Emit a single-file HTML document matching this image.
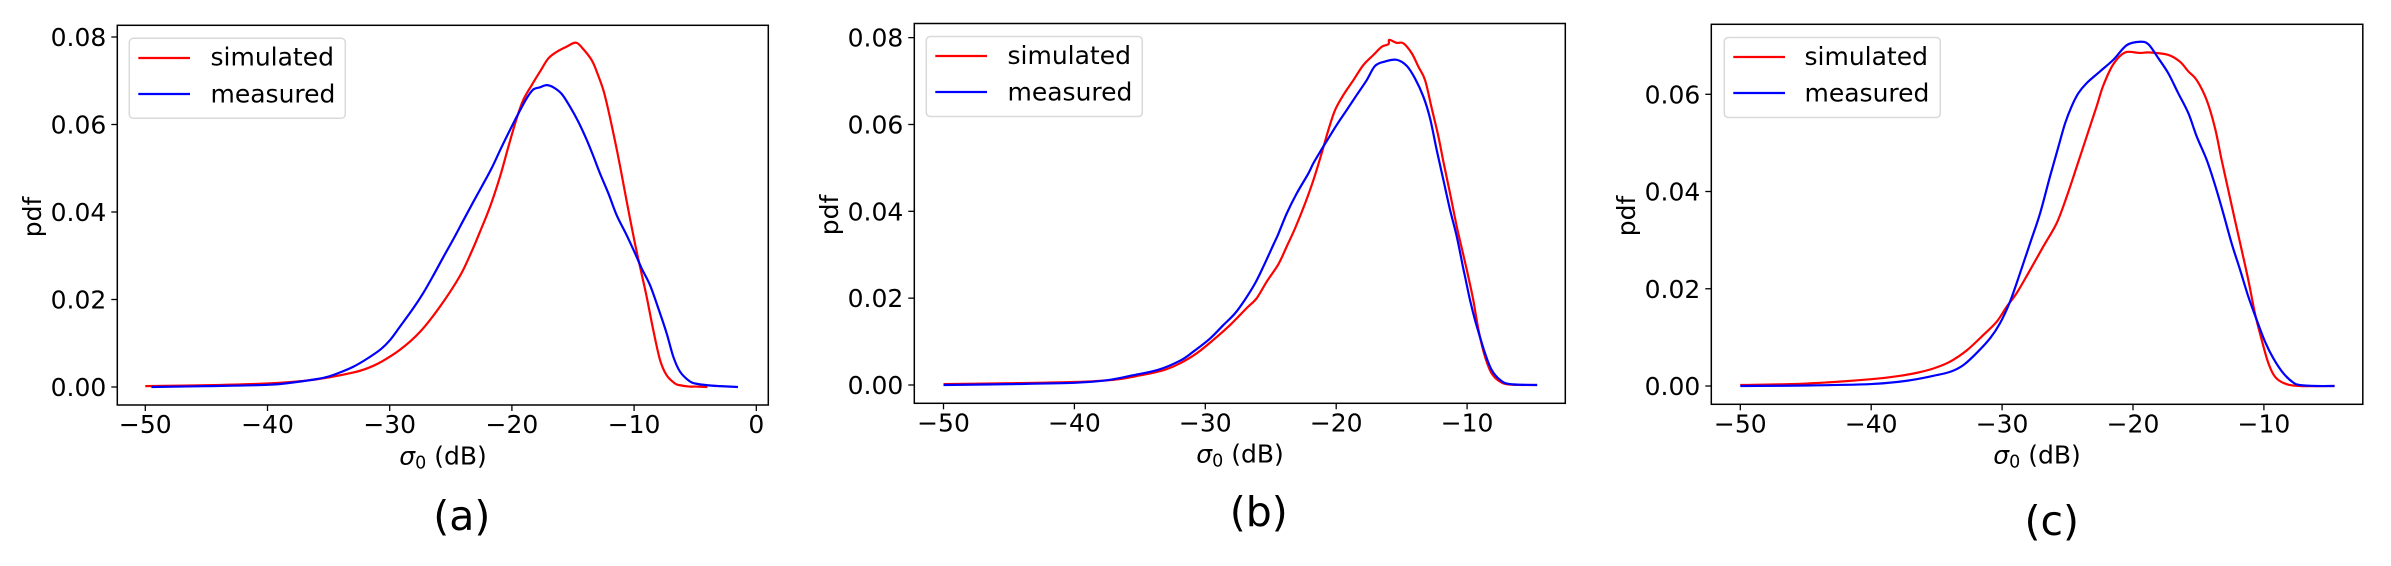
<!DOCTYPE html>
<html lang="en">
<head>
<meta charset="utf-8">
<title>Simulated vs measured pdf of sigma0</title>
<style>
html,body{margin:0;padding:0;background:#fff;width:2391px;height:566px;overflow:hidden}
svg{display:block;font-family:"DejaVu Sans","Liberation Sans",sans-serif;fill:#000}
text{font-size:25px}
</style>
</head>
<body>
<svg id="figure" xmlns="http://www.w3.org/2000/svg" width="2391" height="566" viewBox="0 0 2391 566">
  <rect width="2391" height="566" fill="#fff"/>

  <g id="panel-a">
    <g class="marks"></g>
    <rect x="117.3" y="25.3" width="651" height="379.7" fill="none" stroke="#000" stroke-width="1.5"/>
    <g class="ticks"></g>
    <text x="443" y="464.5" text-anchor="middle"><tspan font-style="italic">σ</tspan><tspan font-size="17.5" dy="4">0</tspan><tspan dy="-4"> (dB)</tspan></text>
    <text transform="translate(41 217) rotate(-90)" text-anchor="middle">pdf</text>
    <g>
      <rect x="129.3" y="38.3" width="216" height="80" rx="4" fill="#fff" fill-opacity="0.8" stroke="#d9d9d9" stroke-width="1.5"/>
      <line x1="138.3" x2="190" y1="58" y2="58" stroke="#f00" stroke-width="2.2"/>
      <text x="210.5" y="65.7">simulated</text>
      <line x1="138.3" x2="190" y1="94" y2="94" stroke="#00f" stroke-width="2.2"/>
      <text x="210.5" y="102.3">measured</text>
    </g>
    <text x="461.8" y="530" text-anchor="middle" style="font-size:41px">(a)</text>
  </g>

  <g id="panel-b">
    <g class="marks"></g>
    <rect x="914.3" y="23.5" width="651" height="379.8" fill="none" stroke="#000" stroke-width="1.5"/>
    <g class="ticks"></g>
    <text x="1240" y="462.7" text-anchor="middle"><tspan font-style="italic">σ</tspan><tspan font-size="17.5" dy="4">0</tspan><tspan dy="-4"> (dB)</tspan></text>
    <text transform="translate(838 215) rotate(-90)" text-anchor="middle">pdf</text>
    <g>
      <rect x="926.3" y="36.5" width="216" height="80" rx="4" fill="#fff" fill-opacity="0.8" stroke="#d9d9d9" stroke-width="1.5"/>
      <line x1="935.3" x2="987" y1="56" y2="56" stroke="#f00" stroke-width="2.2"/>
      <text x="1007.5" y="63.9">simulated</text>
      <line x1="935.3" x2="987" y1="92" y2="92" stroke="#00f" stroke-width="2.2"/>
      <text x="1007.5" y="100.5">measured</text>
    </g>
    <text x="1258.8" y="526" text-anchor="middle" style="font-size:41px">(b)</text>
  </g>

  <g id="panel-c">
    <g class="marks"></g>
    <rect x="1711.3" y="24.3" width="651.5" height="380" fill="none" stroke="#000" stroke-width="1.5"/>
    <g class="ticks"></g>
    <text x="2037" y="463.7" text-anchor="middle"><tspan font-style="italic">σ</tspan><tspan font-size="17.5" dy="4">0</tspan><tspan dy="-4"> (dB)</tspan></text>
    <text transform="translate(1635 216) rotate(-90)" text-anchor="middle">pdf</text>
    <g>
      <rect x="1724.3" y="37.5" width="216" height="80" rx="4" fill="#fff" fill-opacity="0.8" stroke="#d9d9d9" stroke-width="1.5"/>
      <line x1="1733.3" x2="1785" y1="57" y2="57" stroke="#f00" stroke-width="2.2"/>
      <text x="1804.5" y="64.9">simulated</text>
      <line x1="1733.3" x2="1785" y1="93" y2="93" stroke="#00f" stroke-width="2.2"/>
      <text x="1804.5" y="101.5">measured</text>
    </g>
    <text x="2051.8" y="535" text-anchor="middle" style="font-size:41px">(c)</text>
  </g>
</svg>

<script>
// ---- Panel (a) data: sigma0 in dB, pdf values ----
const simulatedDbA = [-50,-45,-40,-37,-35,-33,-32,-30.79,-29.16,-27.52,-25.88,-24.25,-23.29,-22.61,-21.79,-20.97,-20.29,-19.61,-19.07,-18.38,-17.7,-17.02,-16.34,-15.52,-14.75,-14.15,-13.47,-13.06,-12.52,-12.11,-11.56,-11.15,-10.61,-9.93,-9.38,-8.97,-8.43,-7.88,-7.34,-6.65,-6.24,-5.5,-5,-4];
const simulatedPdfA = [0.0002,0.0004,0.0008,0.0014,0.0022,0.0033,0.0041,0.0056,0.0085,0.0126,0.0184,0.0254,0.031,0.0355,0.0412,0.0481,0.0549,0.0614,0.0656,0.069,0.0721,0.0751,0.0766,0.0778,0.0787,0.0772,0.0747,0.0721,0.0679,0.0633,0.0562,0.0505,0.0425,0.0328,0.0258,0.0206,0.013,0.0062,0.0027,0.0008,0.0004,0.0001,0.0001,0];
const measuredDbA = [-49.5,-45,-40,-38,-36,-35,-34,-33,-32,-30.79,-29.98,-29.16,-28.07,-27.25,-26.43,-25.61,-24.79,-23.97,-23.16,-22.47,-21.66,-20.97,-20.29,-19.47,-18.79,-18.25,-17.7,-17.16,-16.61,-15.93,-15.25,-14.56,-13.88,-13.34,-12.79,-12.11,-11.43,-10.61,-9.93,-9.38,-8.7,-8.02,-7.34,-6.79,-6.24,-5.5,-5,-4,-3,-1.5];
const measuredPdfA = [0,0.0002,0.0005,0.001,0.0018,0.0024,0.0034,0.0046,0.0062,0.0085,0.0107,0.0138,0.018,0.0215,0.0255,0.0297,0.0338,0.0381,0.0423,0.0458,0.05,0.0541,0.058,0.0625,0.066,0.068,0.0685,0.069,0.0685,0.067,0.0641,0.0606,0.0565,0.0528,0.0488,0.0443,0.0393,0.0347,0.0306,0.0271,0.0233,0.018,0.0123,0.0069,0.0035,0.0014,0.0008,0.0004,0.0002,0];

// ---- Panel (b) data ----
const simulatedDbB = [-50,-45,-40,-37,-35,-34,-33,-31.93,-30.66,-29.38,-28.11,-26.84,-26.07,-25.31,-24.42,-23.78,-23.14,-22.38,-21.74,-21.11,-20.6,-20.09,-19.45,-18.69,-17.92,-17.16,-16.52,-16.01,-15.94,-15.38,-14.87,-14.23,-13.72,-13.21,-12.7,-12.19,-11.81,-11.3,-10.79,-10.29,-9.91,-9.53,-9.27,-9.02,-8.63,-8.13,-7.49,-6.72,-4.65];
const simulatedPdfB = [0.0002,0.0004,0.0007,0.0012,0.0022,0.0028,0.0036,0.005,0.0073,0.0104,0.0138,0.0177,0.02,0.0238,0.0278,0.0319,0.0361,0.0418,0.0472,0.0534,0.0587,0.0633,0.0668,0.0702,0.0737,0.076,0.0779,0.0785,0.0795,0.0788,0.0787,0.0764,0.0733,0.0702,0.0637,0.0572,0.0514,0.0441,0.0365,0.03,0.025,0.0196,0.015,0.0111,0.0065,0.0027,0.0008,0.0001,0];
const measuredDbB = [-50,-45,-40,-37.5,-35.6,-33.6,-31.93,-30.91,-29.64,-28.62,-27.73,-26.96,-26.2,-25.56,-24.8,-24.42,-23.78,-23.02,-22.13,-21.74,-21.11,-20.72,-19.96,-19.2,-18.43,-17.67,-17.03,-16.27,-15.38,-14.61,-13.98,-13.34,-12.83,-12.32,-11.81,-11.3,-10.79,-10.29,-10.16,-9.78,-9.4,-9.02,-8.63,-8.13,-7.49,-6.72,-4.65];
const measuredPdfB = [0,0.0002,0.0005,0.0011,0.0022,0.0035,0.0056,0.0077,0.0107,0.0138,0.0165,0.0197,0.0234,0.0273,0.0323,0.0348,0.0395,0.0441,0.0487,0.0511,0.0543,0.0562,0.0599,0.0633,0.0668,0.0702,0.0735,0.0745,0.0749,0.0735,0.0706,0.0664,0.0614,0.0541,0.0472,0.0403,0.0342,0.0268,0.025,0.0196,0.015,0.0111,0.0073,0.0035,0.0012,0.0002,0];

// ---- Panel (c) data ----
const simulatedDbC = [-50,-45,-40,-37.8,-36.53,-35.25,-33.98,-32.71,-31.43,-30.42,-29.65,-28.89,-28,-26.85,-25.83,-25.07,-24.3,-23.54,-22.78,-22.27,-21.5,-20.61,-19.5,-18.7,-17.3,-16.41,-15.77,-15.13,-14.37,-13.73,-13.23,-12.72,-12.21,-11.7,-11.19,-10.68,-10.17,-9.66,-9.15,-8.39,-7.24,-4.6];
const simulatedPdfC = [0.0002,0.0005,0.0014,0.0021,0.0027,0.0036,0.005,0.0073,0.0105,0.0132,0.0163,0.0191,0.0232,0.0287,0.0335,0.0389,0.0451,0.0513,0.0575,0.0618,0.0662,0.0686,0.0685,0.0686,0.0681,0.0667,0.0647,0.0629,0.0588,0.053,0.0465,0.0403,0.0341,0.028,0.0218,0.0149,0.0095,0.0047,0.0019,0.0005,0,0];
const measuredDbC = [-50,-45,-40,-37.8,-36.53,-35.25,-33.98,-32.96,-31.94,-30.92,-30.16,-29.4,-28.63,-27.87,-27.1,-26.34,-25.7,-25.19,-24.69,-24.18,-23.54,-22.52,-21.5,-20.48,-19.47,-18.83,-18.06,-17.3,-16.54,-15.77,-15.13,-14.37,-13.73,-13.1,-12.46,-11.82,-11.19,-10.55,-9.91,-9.28,-8.51,-7.75,-7.24,-6,-4.6];
const measuredPdfC = [0,0.0001,0.0004,0.0009,0.0014,0.0021,0.0029,0.0043,0.0068,0.0098,0.0129,0.0173,0.0232,0.0293,0.0355,0.0431,0.0492,0.054,0.0575,0.0602,0.0623,0.0647,0.0671,0.0701,0.0708,0.0703,0.0674,0.0643,0.0602,0.0561,0.0513,0.0465,0.0413,0.0355,0.0293,0.0239,0.0184,0.0136,0.0091,0.0057,0.0026,0.0007,0.0002,0,0];

// ---- Tick labels ----
const xTicksAB = [-50,-40,-30,-20,-10];
const xTicksWithZero = [-50,-40,-30,-20,-10,0];
const yTicksTo08 = [0,0.02,0.04,0.06,0.08];
const yTicksTo06 = [0,0.02,0.04,0.06];

const SVG_NS = 'http://www.w3.org/2000/svg';

function axisX(dbAt50, pxPerDb) {
  return function (v) { return dbAt50 + (v + 50) * pxPerDb; };
}
function axisY(zeroPx, pxPerUnit) {
  return function (v) { return zeroPx - v * pxPerUnit; };
}

// Smooth path through the data points (Catmull-Rom segments as cubic Beziers).
function smoothPath(pts) {
  let d = 'M' + pts[0][0].toFixed(2) + ' ' + pts[0][1].toFixed(2);
  for (let i = 0; i < pts.length - 1; i++) {
    const p0 = pts[Math.max(i - 1, 0)];
    const p1 = pts[i];
    const p2 = pts[i + 1];
    const p3 = pts[Math.min(i + 2, pts.length - 1)];
    const c1x = p1[0] + (p2[0] - p0[0]) / 6;
    const c1y = p1[1] + (p2[1] - p0[1]) / 6;
    const c2x = p2[0] - (p3[0] - p1[0]) / 6;
    const c2y = p2[1] - (p3[1] - p1[1]) / 6;
    d += 'C' + c1x.toFixed(2) + ' ' + c1y.toFixed(2) + ' ' + c2x.toFixed(2) + ' ' + c2y.toFixed(2) + ' ' + p2[0].toFixed(2) + ' ' + p2[1].toFixed(2);
  }
  return d;
}

function drawSeries(group, dbValues, pdfValues, x, y, color, name) {
  const pts = dbValues.map(function (d, i) {
    return [x(d), y(pdfValues[i])];
  });
  const line = document.createElementNS(SVG_NS, 'path');
  line.setAttribute('d', smoothPath(pts));
  line.setAttribute('fill', 'none');
  line.setAttribute('stroke', color);
  line.setAttribute('stroke-width', '2.2');
  line.setAttribute('stroke-linejoin', 'round');
  
  
  group.appendChild(line);
}

function drawTicks(group, xTicks, yTicks, x, y, bottom, left, prefix) {
  xTicks.forEach(function (t) {
    const mark = document.createElementNS(SVG_NS, 'line');
    mark.setAttribute('x1', x(t));
    mark.setAttribute('x2', x(t));
    mark.setAttribute('y1', bottom);
    mark.setAttribute('y2', bottom + 6);
    mark.setAttribute('stroke', '#000');
    mark.setAttribute('stroke-width', '1.3');
    
    
    group.appendChild(mark);
    const label = document.createElementNS(SVG_NS, 'text');
    label.setAttribute('x', x(t));
    label.setAttribute('y', bottom + 28);
    label.setAttribute('text-anchor', 'middle');
    label.textContent = t < 0 ? '\u2212' + Math.abs(t) : String(t);
    
    
    group.appendChild(label);
  });
  yTicks.forEach(function (t) {
    const mark = document.createElementNS(SVG_NS, 'line');
    mark.setAttribute('x1', left - 6);
    mark.setAttribute('x2', left);
    mark.setAttribute('y1', y(t));
    mark.setAttribute('y2', y(t));
    mark.setAttribute('stroke', '#000');
    mark.setAttribute('stroke-width', '1.3');
    
    
    group.appendChild(mark);
    const label = document.createElementNS(SVG_NS, 'text');
    label.setAttribute('x', left - 11);
    label.setAttribute('y', y(t) + 9);
    label.setAttribute('text-anchor', 'end');
    label.textContent = t.toFixed(2);
    
    
    group.appendChild(label);
  });
}

function drawPanel(id, geo, xTicks, yTicks, simDb, simPdf, meaDb, meaPdf) {
  const root = document.getElementById(id);
  const marks = root.querySelector('.marks');
  const ticks = root.querySelector('.ticks');
  const x = axisX(geo.x50, geo.pxPerDb);
  const y = axisY(geo.y0, geo.pxPerUnit);
  drawSeries(marks, simDb, simPdf, x, y, '#ff0000', id + '-simulated-line');
  drawSeries(marks, meaDb, meaPdf, x, y, '#0000ff', id + '-measured-line');
  drawTicks(ticks, xTicks, yTicks, x, y, geo.bottom, geo.left, id);
}

drawPanel('panel-a', {x50:145.3, pxPerDb:12.22, y0:387, pxPerUnit:4375, bottom:405, left:117.3},
  xTicksWithZero, yTicksTo08, simulatedDbA, simulatedPdfA, measuredDbA, measuredPdfA);
drawPanel('panel-b', {x50:943.5, pxPerDb:13.09, y0:385, pxPerUnit:4342, bottom:403.3, left:914.3},
  xTicksAB, yTicksTo08, simulatedDbB, simulatedPdfB, measuredDbB, measuredPdfB);
drawPanel('panel-c', {x50:1740.3, pxPerDb:13.09, y0:386, pxPerUnit:4862, bottom:404.3, left:1711.3},
  xTicksAB, yTicksTo06, simulatedDbC, simulatedPdfC, measuredDbC, measuredPdfC);
</script>
</body>
</html>
